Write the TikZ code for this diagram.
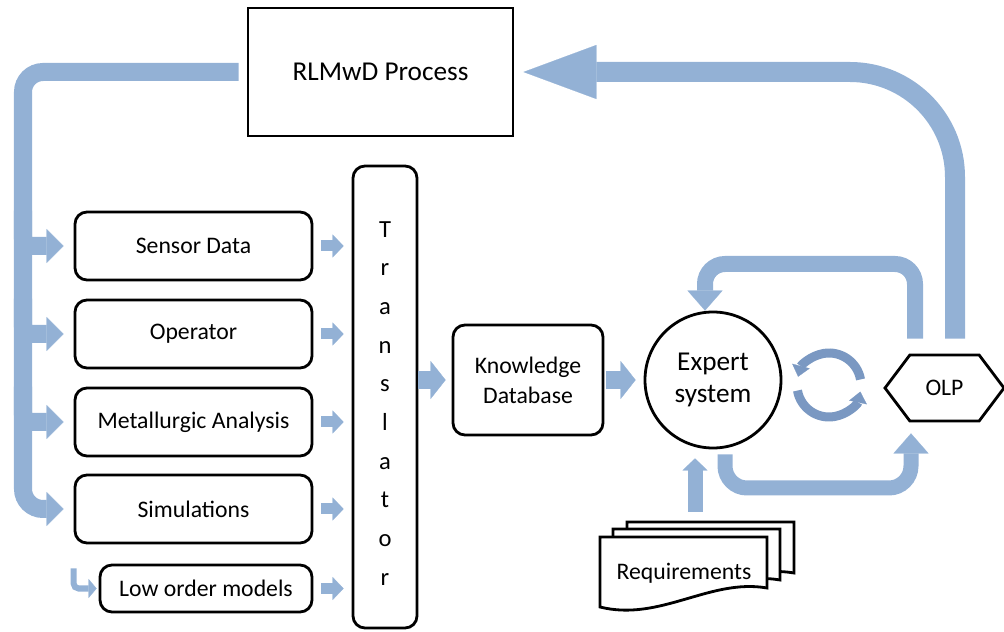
\documentclass[tikz,border=0pt]{standalone}
\usepackage{fontspec}
\setmainfont{Carlito}
\usetikzlibrary{arrows.meta,shapes.symbols,positioning}
\definecolor{bandblue}{RGB}{147,177,213}
\definecolor{spinblue}{RGB}{122,152,194}
\begin{document}
\begin{tikzpicture}[x=0.2mm, y=-0.2mm,
    source/.style ={draw, line width=1.6pt, rounded corners=2.4mm, minimum width=47.4mm,
      minimum height=13.6mm, font=\fontsize{13.5}{16}\selectfont},
    band/.style ={draw=bandblue, line width=#1}]
   \useasboundingbox (0,0) rectangle (1004,632);

   \node[draw, line width=1.6pt, minimum width=53mm, minimum height=25.6mm,
     font=\fontsize{15.5}{18}\selectfont] (rlmwd) at (380.5,72) {RLMwD Process};
   \node[source] (sensor)   at (193.5,246) {Sensor Data};
   \node[source] (operator) at (193.5,334) {Operator};
   \node[source] (metal)    at (193.5,422) {Metallurgic Analysis};
   \node[source] (simul)    at (193.5,509) {Simulations};
   \node[source, minimum width=42.4mm, minimum height=9.4mm] (loworder) at (206,588.5) {Low order models};
   \node[draw, line width=1.6pt, rounded corners=2.4mm, minimum width=12.8mm, minimum height=92.4mm,
     align=center, font=\fontsize{14}{22}\selectfont] (translator) at (385,397)
     {\rule{0pt}{16pt}T\\r\\a\\n\\s\\l\\a\\t\\o\\r};
   \node[source, minimum width=30mm, minimum height=22mm, align=center,
     font=\fontsize{13.5}{17}\selectfont] (kdb) at (528,380) {Knowledge\\Database};
   \node[circle, draw, line width=1.6pt, minimum size=27.2mm, align=center,
     font=\fontsize{15.5}{18.7}\selectfont] (expert) at (713,380) {Expert\\system};
   \node[signal, signal to=east and west, signal pointer angle=106, draw, line width=1.6pt,
     minimum width=23.8mm, minimum height=13.2mm, font=\fontsize{13.5}{16}\selectfont] (olp) at (944.5,388) {OLP};

   % requirements stack
   \foreach \dx/\dy in {27/-15, 13/-8, 0/0}
     \draw[line width=1.6pt, fill=white, shift={(\dx,\dy)}] (600,537) -- (767,537) -- (767,588)
       .. controls (710,578) and (660,622) .. (600,607) -- cycle;
   \node[font=\fontsize{13.5}{16}\selectfont] (require) at (684,573) {Requirements};

   % feedback to the process
   \draw[band=4mm, rounded corners=21mm, -{Triangle[width=10.8mm,length=14.6mm,line width=0.1pt]},
     shorten >=1.8mm] ([xshift=2.1mm,yshift=3mm]olp.north) |- (rlmwd.east);

   % process to the data sources
   \coordinate (trunk) at (23,72);
   \draw[band=3.6mm, rounded corners=4mm, -{Triangle[width=6.8mm,length=3.4mm,line width=0.1pt]},
     shorten >=2mm] ([xshift=-1.6mm]rlmwd.west) -- (trunk) |- (simul.west);
   \foreach \src in {sensor, operator, metal}
     \draw[band=3.6mm, rounded corners=1.5mm, -{Triangle[width=6.8mm,length=3.4mm,line width=0.1pt]},
       shorten >=2mm] (trunk |- \src.north) |- (\src.west);
   \draw[band=1.2mm, rounded corners=1mm, -{Triangle[width=3.8mm,length=1.6mm,line width=0.1pt]},
     shorten >=0.4mm] ([xshift=-5mm,yshift=4mm]loworder.west) |- (loworder.west);

   % data sources to the translator
   \foreach \src in {sensor, operator, metal, simul, loworder}
     \draw[band=2.2mm, -{Triangle[width=4.6mm,length=2.2mm,line width=0.1pt]},
       shorten <=1.6mm, shorten >=1.6mm] (\src.east) -- (\src.east -| translator.west);

   \draw[band=3.6mm, -{Triangle[width=7.6mm,length=3mm,line width=0.1pt]}, shorten >=1.2mm]
     (kdb.west -| translator.east) -- (kdb.west);
   \draw[band=3.6mm, -{Triangle[width=7.6mm,length=3mm,line width=0.1pt]},
     shorten <=0.4mm, shorten >=1.6mm] (kdb.east) -- (expert.west);

   % expert system and OLP loop
   \coordinate (lowturn) at (911,488);
   \draw[band=3mm, rounded corners=4.4mm, -{Triangle[width=7mm,length=4mm,line width=0.1pt]},
     shorten >=2.2mm] ([xshift=2.4mm,yshift=-1mm]expert.south) |- (lowturn) -- (lowturn |- olp.south);
   \coordinate (upturn) at (705,264);
   \draw[band=3.2mm, rounded corners=4mm, -{Triangle[width=7mm,length=4mm,line width=0.1pt]}]
     ([xshift=-5.9mm,yshift=3mm]olp.north) |- (upturn) -- (upturn |- expert.north);

   \coordinate (reqtop) at (695,512);
   \draw[band=3mm, -{Triangle[width=5mm,length=2.4mm,line width=0.1pt]}, shorten >=1.8mm]
     (reqtop) -- (reqtop |- expert.south);

   % rotation sign
   \coordinate (spin) at (829,385);
   \draw[band=1.8mm, draw=spinblue, -{Triangle[width=3.6mm,length=2.2mm,line width=0.1pt]}]
     (spin) ++(-10:32) arc[start angle=-10, end angle=-165, radius=32];
   \draw[band=1.8mm, draw=spinblue, -{Triangle[width=3.6mm,length=2.2mm,line width=0.1pt]}]
     (spin) ++(170:32) arc[start angle=170, end angle=12, radius=32];
 \end{tikzpicture}
\end{document}
